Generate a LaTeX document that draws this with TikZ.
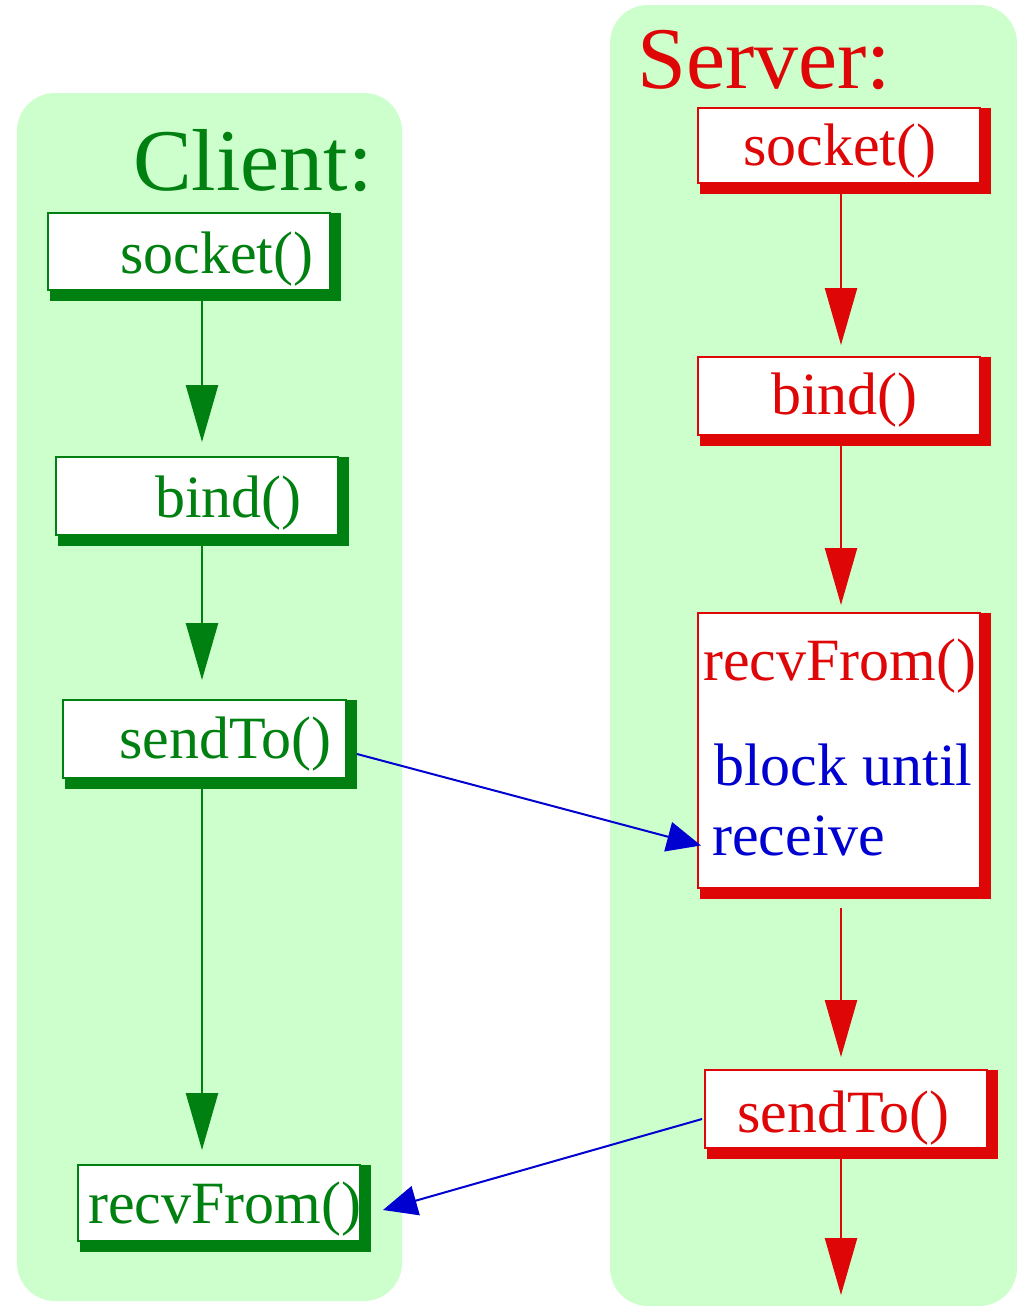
\documentclass[tikz,border=0pt]{standalone}
\usepackage{fontspec}
\setmainfont{Liberation Serif}
\usetikzlibrary{arrows.meta,calc}
\definecolor{panelgreen}{RGB}{204,255,204}
\definecolor{cgreen}{RGB}{0,128,16}
\definecolor{sred}{RGB}{222,6,6}
\definecolor{mblue}{RGB}{0,0,208}
\pgfdeclarelayer{panel}
\pgfdeclarelayer{shade}
\pgfsetlayers{panel,shade,main}
\tikzset{
  fnbox/.style={draw, fill=white, line width=2pt, rectangle, inner sep=0pt,
    outer sep=0pt, minimum width=282pt, minimum height=77pt},
  cbox/.style={fnbox, draw=cgreen},
  sbox/.style={fnbox, draw=sred},
  lbl/.style={anchor=base west, inner sep=0pt, font=\fontsize{60}{70}\selectfont},
  clbl/.style={lbl, text=cgreen},
  slbl/.style={lbl, text=sred},
  blbl/.style={lbl, text=mblue},
  title/.style={anchor=base west, inner sep=0pt, font=\fontsize{88}{100}\selectfont},
  garrow/.style={draw=cgreen, line width=2.4pt,
    -{Triangle[length=57pt,width=32pt]}},
  rarrow/.style={draw=sred, line width=2.4pt,
    -{Triangle[length=57pt,width=32pt]}},
  barrow/.style={draw=mblue, line width=2pt,
    -{Triangle[length=34pt,width=30pt]}},
}
\begin{document}
\begin{tikzpicture}[x=1pt,y=-1pt]
\useasboundingbox (0,0) rectangle (1017,1307);

% the two swim lanes
\begin{pgfonlayer}{panel}
  \fill[panelgreen, rounded corners=38pt] (17,93) rectangle (402,1301);
  \fill[panelgreen, rounded corners=38pt] (610,5) rectangle (1017,1306);
\end{pgfonlayer}

\node[title, text=cgreen] (ctitle) at (133,190) {Client:};
\node[title, text=sred] (stitle) at (637,88) {Server:};

% client call boxes
\node[cbox] (csock) at (189,251.5) {};
\node[cbox, minimum height=78pt] (cbind) at (197,496) {};
\node[cbox, minimum height=78pt, minimum width=283pt] (csend) at (204.5,739) {};
\node[cbox, minimum height=76pt] (crecv) at (219,1203) {};

% server call boxes
\node[sbox, minimum height=75pt] (ssock) at (839,145.5) {};
\node[sbox, minimum height=78pt] (sbind) at (839,396) {};
\node[sbox, minimum height=275pt] (srecv) at (839,750.5) {};
\node[sbox, minimum height=78pt] (ssend) at (846,1109) {};

% drop shadows behind the boxes
\begin{pgfonlayer}{shade}
  \foreach \n in {csock,cbind,csend,crecv}
    \fill[cgreen] ($(\n.north west)+(2,0)$) rectangle ($(\n.south east)+(11,11)$);
  \foreach \n in {ssock,sbind,srecv,ssend}
    \fill[sred] ($(\n.north west)+(2,0)$) rectangle ($(\n.south east)+(11,11)$);
\end{pgfonlayer}

% labels
\node[clbl] (csockt) at (120,273) {socket()};
\node[clbl] (cbindt) at (155,517) {bind()};
\node[clbl] (csendt) at (119,758) {sendTo()};
\node[clbl] (crecvt) at (88,1223) {recvFrom()};
\node[slbl] (ssockt) at (743,165) {socket()};
\node[slbl] (sbindt) at (771,414) {bind()};
\node[slbl] (srecvt) at (703,680) {recvFrom()};
\node[blbl] (swait1) at (714,785) {block until};
\node[blbl] (swait2) at (712,855) {receive};
\node[slbl] (ssendt) at (737,1132) {sendTo()};

% control flow
\coordinate (xcl) at (202,0);
\coordinate (xsv) at (841,0);
\coordinate (sout) at (841,1295);

\draw[garrow, shorten >=15pt] (csock.south -| xcl) -- (cbind.north -| xcl);
\draw[garrow, shorten >=20pt] (cbind.south -| xcl) -- (csend.north -| xcl);
\draw[garrow, shorten >=15pt] (csend.south -| xcl) -- (crecv.north -| xcl);

\draw[rarrow, shorten >=12pt] (ssock.south -| xsv) -- (sbind.north -| xsv);
\draw[rarrow, shorten >=8pt] (sbind.south -| xsv) -- (srecv.north -| xsv);
\draw[rarrow, shorten <=20pt, shorten >=13pt] (srecv.south -| xsv) -- (ssend.north -| xsv);
\draw[rarrow] (ssend.south -| xsv) -- (sout);

% datagrams between the two sides
\draw[barrow] ($(csend.east)+(11,15)$) -- ($(srecv.west)+(3,95)$);
\draw[barrow] ($(ssend.west)+(-3,10)$) -- ($(crecv.east)+(23,7)$);
\end{tikzpicture}
\end{document}
